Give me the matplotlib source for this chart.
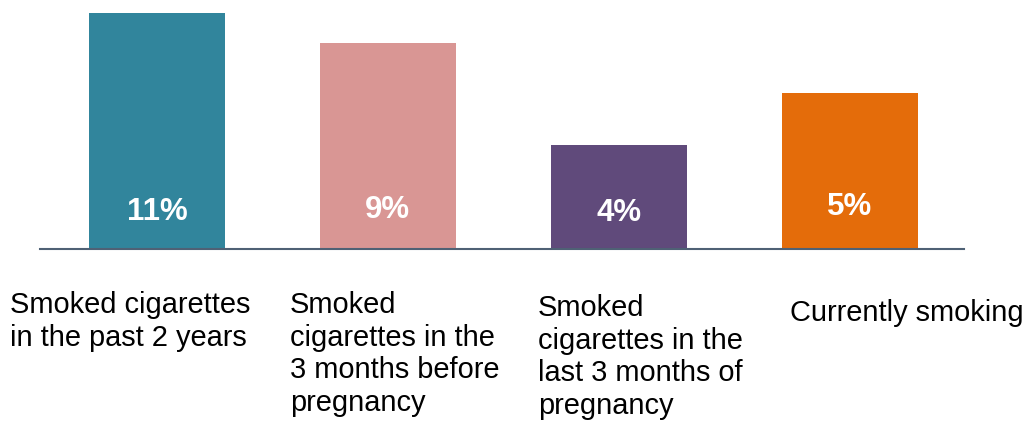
import matplotlib
matplotlib.use('Agg')
import matplotlib.pyplot as plt

plt.rcParams['font.family'] = ['Liberation Sans', 'DejaVu Sans']

categories = ['Smoked cigarettes\nin the past 2 years',
              'Smoked\ncigarettes in the\n3 months before\npregnancy',
              'Smoked\ncigarettes in the\nlast 3 months of\npregnancy',
              'Currently smoking']
# bar heights as drawn in the picture (not proportional to the printed labels)
bar_heights = [11.0, 9.6, 4.83, 7.26]
value_labels = ['11%', '9%', '4%', '5%']
colors = ['#31859C', '#D99694', '#604A7B', '#E46C0A']

W, H = 1026, 424
fig = plt.figure(figsize=(W / 100, H / 100), dpi=100)
ax = fig.add_axes([40 / W, (H - 248.5) / H, 924 / W, 235.5 / H])

x = range(len(categories))
ax.bar(x, bar_heights, width=0.589, color=colors)
ax.set_xlim(-0.506, 3.494)
ax.set_ylim(0, 11)

# value labels inside bars
label_y = [1.7, 1.8, 1.65, 1.93]
for i, (lab, yy) in enumerate(zip(value_labels, label_y)):
    ax.text(i, yy, lab, color='white', fontsize=22.5, fontweight='bold',
            ha='center', va='center')

for s in ['top', 'right', 'left']:
    ax.spines[s].set_visible(False)
ax.spines['bottom'].set_color('#4F6175')
ax.spines['bottom'].set_linewidth(1.5)
ax.set_xticks([])
ax.set_yticks([])

# category labels under the axis
lab_x = [10, 290, 538, 790]
lab_top = [291, 291, 294, 299]
for cat, lx, ly in zip(categories, lab_x, lab_top):
    fig.text(lx / W, 1 - ly / H, cat, fontsize=20.9, ha='left', va='top',
             linespacing=1.21, color='black')

fig.savefig('out.png', dpi=100)
